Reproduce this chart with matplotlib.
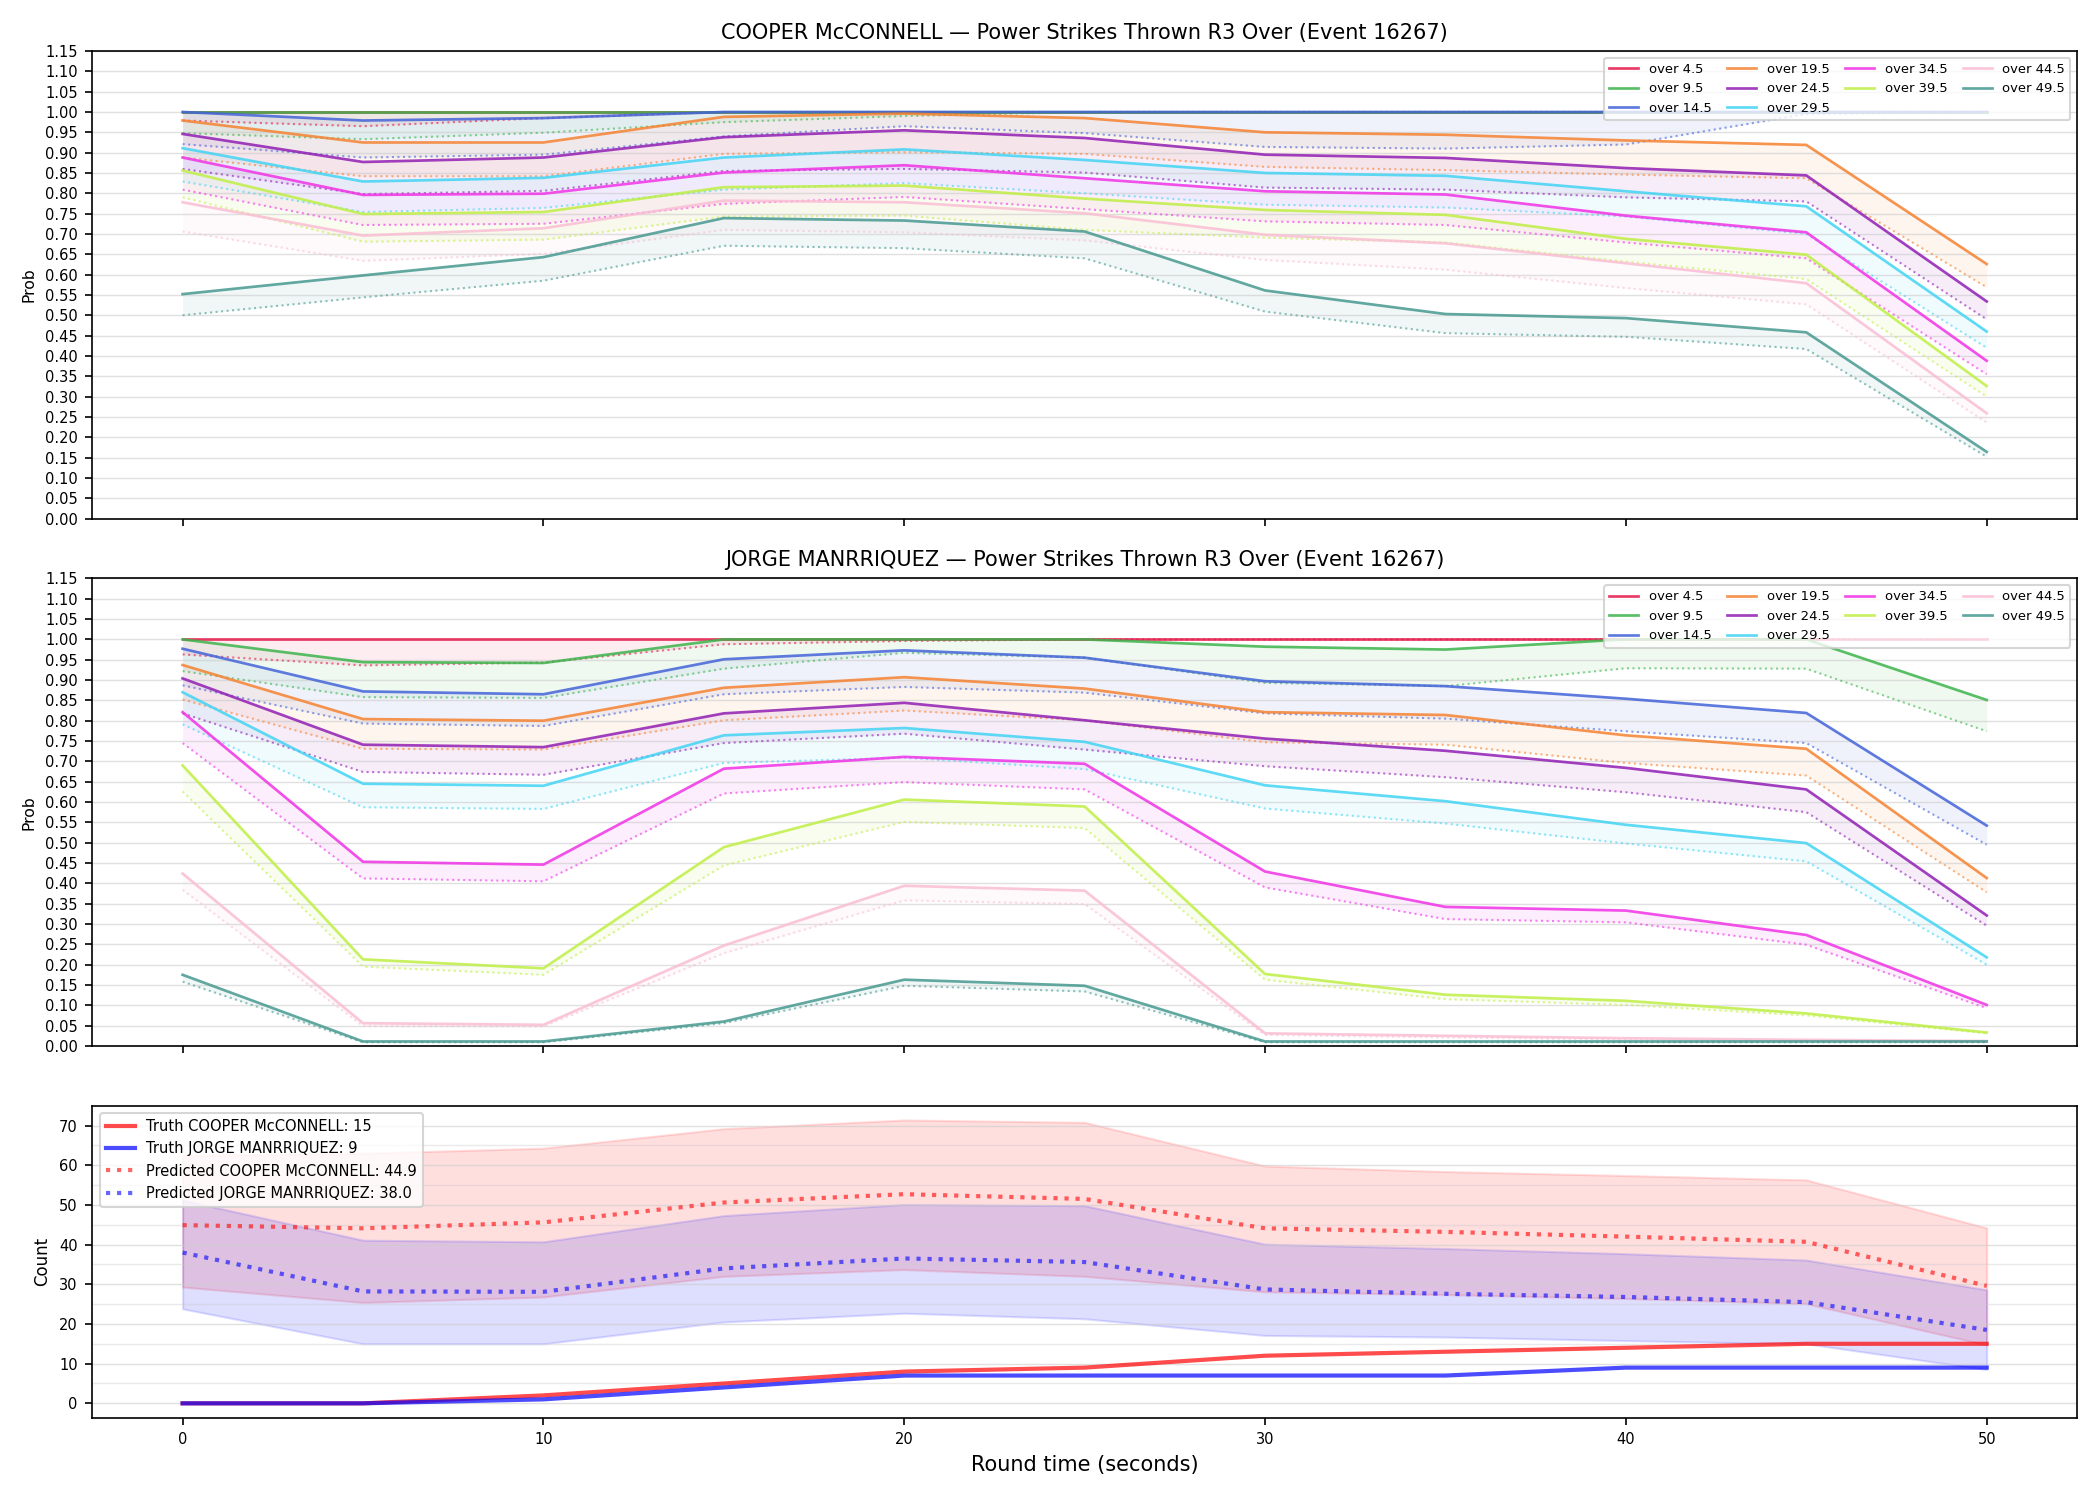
import os
os.environ.setdefault("MPLBACKEND", "Agg")
import numpy as np
import matplotlib.pyplot as plt
from matplotlib.ticker import MultipleLocator

EVENT = 16267
FIGHTER_A = "COOPER McCONNELL"
FIGHTER_B = "JORGE MANRRIQUEZ"

round_time = [0, 5, 10, 15, 20, 25, 30, 35, 40, 45, 50]
thresholds = ["4.5", "9.5", "14.5", "19.5", "24.5", "29.5", "34.5", "39.5", "44.5", "49.5"]
colours = ["#e6194B", "#3cb44b", "#4363d8", "#f58231", "#911eb4",
           "#42d4f4", "#f032e6", "#bfef45", "#fabed4", "#469990"]

# over-line probabilities, solid line (one row per threshold)
cooper_prob = [
    [1.0, 1.0, 1.0, 1.0, 1.0, 1.0, 1.0, 1.0, 1.0, 1.0, 1.0],
    [1.0, 1.0, 1.0, 1.0, 1.0, 1.0, 1.0, 1.0, 1.0, 1.0, 1.0],
    [1.0, 0.979, 0.985, 1.0, 1.0, 1.0, 1.0, 1.0, 1.0, 1.0, 1.0],
    [0.979, 0.925, 0.925, 0.988, 0.996, 0.985, 0.950, 0.944, 0.930, 0.919, 0.626],
    [0.946, 0.877, 0.888, 0.938, 0.955, 0.936, 0.895, 0.887, 0.862, 0.844, 0.534],
    [0.911, 0.829, 0.838, 0.888, 0.908, 0.882, 0.850, 0.843, 0.805, 0.768, 0.460],
    [0.888, 0.796, 0.799, 0.851, 0.869, 0.837, 0.805, 0.797, 0.745, 0.704, 0.388],
    [0.856, 0.749, 0.754, 0.815, 0.819, 0.787, 0.759, 0.747, 0.688, 0.649, 0.326],
    [0.778, 0.696, 0.714, 0.782, 0.778, 0.751, 0.698, 0.677, 0.628, 0.579, 0.259],
    [0.552, 0.598, 0.643, 0.739, 0.733, 0.706, 0.561, 0.503, 0.493, 0.458, 0.164],
]
# dotted companion line
cooper_prob_alt = [
    [0.979, 0.965, 0.985, 1.0, 1.0, 1.0, 1.0, 1.0, 1.0, 1.0, 1.0],
    [0.948, 0.933, 0.949, 0.975, 0.990, 1.0, 1.0, 1.0, 1.0, 1.0, 1.0],
    [0.921, 0.888, 0.895, 0.940, 0.965, 0.948, 0.914, 0.910, 0.920, 0.995, 1.0],
    [0.888, 0.842, 0.842, 0.897, 0.901, 0.897, 0.865, 0.857, 0.846, 0.837, 0.569],
    [0.860, 0.798, 0.806, 0.855, 0.860, 0.851, 0.814, 0.809, 0.790, 0.780, 0.490],
    [0.829, 0.754, 0.764, 0.809, 0.825, 0.800, 0.772, 0.765, 0.743, 0.700, 0.420],
    [0.809, 0.722, 0.725, 0.774, 0.791, 0.761, 0.731, 0.722, 0.679, 0.640, 0.355],
    [0.790, 0.681, 0.686, 0.743, 0.745, 0.710, 0.691, 0.679, 0.632, 0.589, 0.300],
    [0.706, 0.634, 0.651, 0.710, 0.704, 0.684, 0.636, 0.612, 0.567, 0.527, 0.236],
    [0.500, 0.544, 0.585, 0.671, 0.665, 0.640, 0.509, 0.456, 0.447, 0.417, 0.152],
]

jorge_prob = [
    [1.0, 1.0, 1.0, 1.0, 1.0, 1.0, 1.0, 1.0, 1.0, 1.0, 1.0],
    [1.0, 0.944, 0.942, 1.0, 1.0, 1.0, 0.982, 0.975, 1.0, 1.0, 0.851],
    [0.977, 0.872, 0.865, 0.951, 0.973, 0.955, 0.897, 0.885, 0.854, 0.819, 0.542],
    [0.937, 0.804, 0.800, 0.881, 0.907, 0.879, 0.821, 0.814, 0.764, 0.731, 0.413],
    [0.904, 0.741, 0.735, 0.818, 0.844, 0.801, 0.756, 0.726, 0.684, 0.631, 0.321],
    [0.870, 0.645, 0.640, 0.764, 0.782, 0.748, 0.641, 0.602, 0.544, 0.499, 0.218],
    [0.821, 0.453, 0.446, 0.682, 0.711, 0.694, 0.429, 0.342, 0.333, 0.273, 0.101],
    [0.690, 0.213, 0.191, 0.489, 0.606, 0.589, 0.177, 0.126, 0.111, 0.080, 0.033],
    [0.424, 0.056, 0.052, 0.247, 0.394, 0.382, 0.031, 0.025, 0.019, 0.015, 0.012],
    [0.175, 0.011, 0.011, 0.060, 0.163, 0.148, 0.011, 0.011, 0.011, 0.011, 0.011],
]
jorge_prob_alt = [
    [0.963, 0.936, 0.943, 0.988, 0.996, 1.0, 1.0, 1.0, 1.0, 1.0, 1.0],
    [0.922, 0.858, 0.856, 0.928, 0.967, 0.955, 0.893, 0.885, 0.929, 0.928, 0.774],
    [0.887, 0.793, 0.787, 0.865, 0.883, 0.869, 0.818, 0.805, 0.774, 0.745, 0.495],
    [0.852, 0.731, 0.729, 0.801, 0.825, 0.801, 0.747, 0.741, 0.696, 0.665, 0.378],
    [0.818, 0.674, 0.667, 0.745, 0.768, 0.729, 0.688, 0.661, 0.624, 0.575, 0.296],
    [0.791, 0.587, 0.583, 0.696, 0.709, 0.681, 0.584, 0.547, 0.498, 0.454, 0.200],
    [0.745, 0.412, 0.405, 0.621, 0.649, 0.631, 0.390, 0.312, 0.304, 0.249, 0.093],
    [0.626, 0.195, 0.175, 0.444, 0.551, 0.536, 0.163, 0.115, 0.101, 0.075, 0.031],
    [0.384, 0.049, 0.048, 0.228, 0.358, 0.349, 0.027, 0.021, 0.016, 0.013, 0.011],
    [0.158, 0.009, 0.009, 0.056, 0.148, 0.134, 0.009, 0.009, 0.009, 0.009, 0.009],
]

# counts panel
cooper_truth = [0, 0, 2, 5, 8, 9, 12, 13, 14, 15, 15]
jorge_truth = [0, 0, 1, 4, 7, 7, 7, 7, 9, 9, 9]
cooper_pred = [44.9, 44.1, 45.6, 50.6, 52.7, 51.5, 44.1, 43.2, 42.0, 40.7, 29.6]
cooper_lo = [29.3, 25.4, 26.8, 32.0, 33.7, 32.0, 28.1, 27.4, 26.4, 25.1, 14.7]
cooper_hi = [62.5, 63.0, 64.3, 69.2, 71.4, 70.8, 59.8, 58.4, 57.4, 56.3, 44.2]
jorge_pred = [38.0, 28.2, 28.1, 34.0, 36.5, 35.6, 28.7, 27.6, 26.8, 25.5, 18.5]
jorge_lo = [23.8, 15.0, 15.0, 20.5, 22.7, 21.3, 17.1, 16.7, 15.8, 15.0, 8.5]
jorge_hi = [51.2, 41.1, 40.7, 47.3, 50.1, 49.8, 40.1, 39.0, 37.7, 36.1, 28.6]


def draw_prob_panel(ax, name, prob, prob_alt):
    for lbl, col, p, q in zip(thresholds, colours, prob, prob_alt):
        ax.plot(round_time, p, color=col, lw=1.3, alpha=0.85, label=f"over {lbl}")
        ax.plot(round_time, q, color=col, lw=1.0, ls=":", alpha=0.6)
        ax.fill_between(round_time, p, q, color=col, alpha=0.08, lw=0)
    ax.set_ylim(0, 1.15)
    ax.set_yticks(np.arange(0, 1.151, 0.05))
    ax.set_yticklabels([f"{v:.2f}" for v in np.arange(0, 1.151, 0.05)])
    ax.set_ylabel("Prob", fontsize=7.5)
    ax.set_title(f"{name} — Power Strikes Thrown R3 Over (Event {EVENT})", fontsize=10)
    ax.grid(axis="y", color="#cccccc", alpha=0.6, lw=0.7)
    ax.tick_params(labelsize=7)
    ax.legend(loc="upper right", ncol=4, fontsize=6.3, handlelength=2.2,
              columnspacing=1.2, borderpad=0.4)


fig, axes = plt.subplots(3, 1, figsize=(14, 10), dpi=150, sharex=True,
                         gridspec_kw={"height_ratios": [1.5, 1.5, 1.0]})
fig.subplots_adjust(left=0.044, right=0.989, top=0.966, bottom=0.055, hspace=0.144)

draw_prob_panel(axes[0], FIGHTER_A, cooper_prob, cooper_prob_alt)
draw_prob_panel(axes[1], FIGHTER_B, jorge_prob, jorge_prob_alt)

ax = axes[2]
ax.fill_between(round_time, cooper_lo, cooper_hi, color="red", alpha=0.13)
ax.fill_between(round_time, jorge_lo, jorge_hi, color="blue", alpha=0.13)
ax.plot(round_time, cooper_truth, color="red", lw=2, alpha=0.7,
        label=f"Truth {FIGHTER_A}: {cooper_truth[-1]}")
ax.plot(round_time, jorge_truth, color="blue", lw=2, alpha=0.7,
        label=f"Truth {FIGHTER_B}: {jorge_truth[-1]}")
ax.plot(round_time, cooper_pred, color="red", lw=2, ls=":", alpha=0.6,
        label=f"Predicted {FIGHTER_A}: {cooper_pred[0]:.1f}")
ax.plot(round_time, jorge_pred, color="blue", lw=2, ls=":", alpha=0.6,
        label=f"Predicted {FIGHTER_B}: {jorge_pred[0]:.1f}")
ax.yaxis.set_major_locator(MultipleLocator(10))
ax.yaxis.set_minor_locator(MultipleLocator(5))
ax.tick_params(axis="y", which="minor", length=0)
ax.grid(axis="y", which="major", color="#cccccc", alpha=0.6, lw=0.7)
ax.grid(axis="y", which="minor", color="#cccccc", alpha=0.4, lw=0.7)
ax.set_ylabel("Count", fontsize=8)
ax.set_xlabel("Round time (seconds)", fontsize=10)
ax.tick_params(labelsize=7)
ax.legend(loc="upper left", fontsize=7)

fig.savefig("out.png", dpi=150)
